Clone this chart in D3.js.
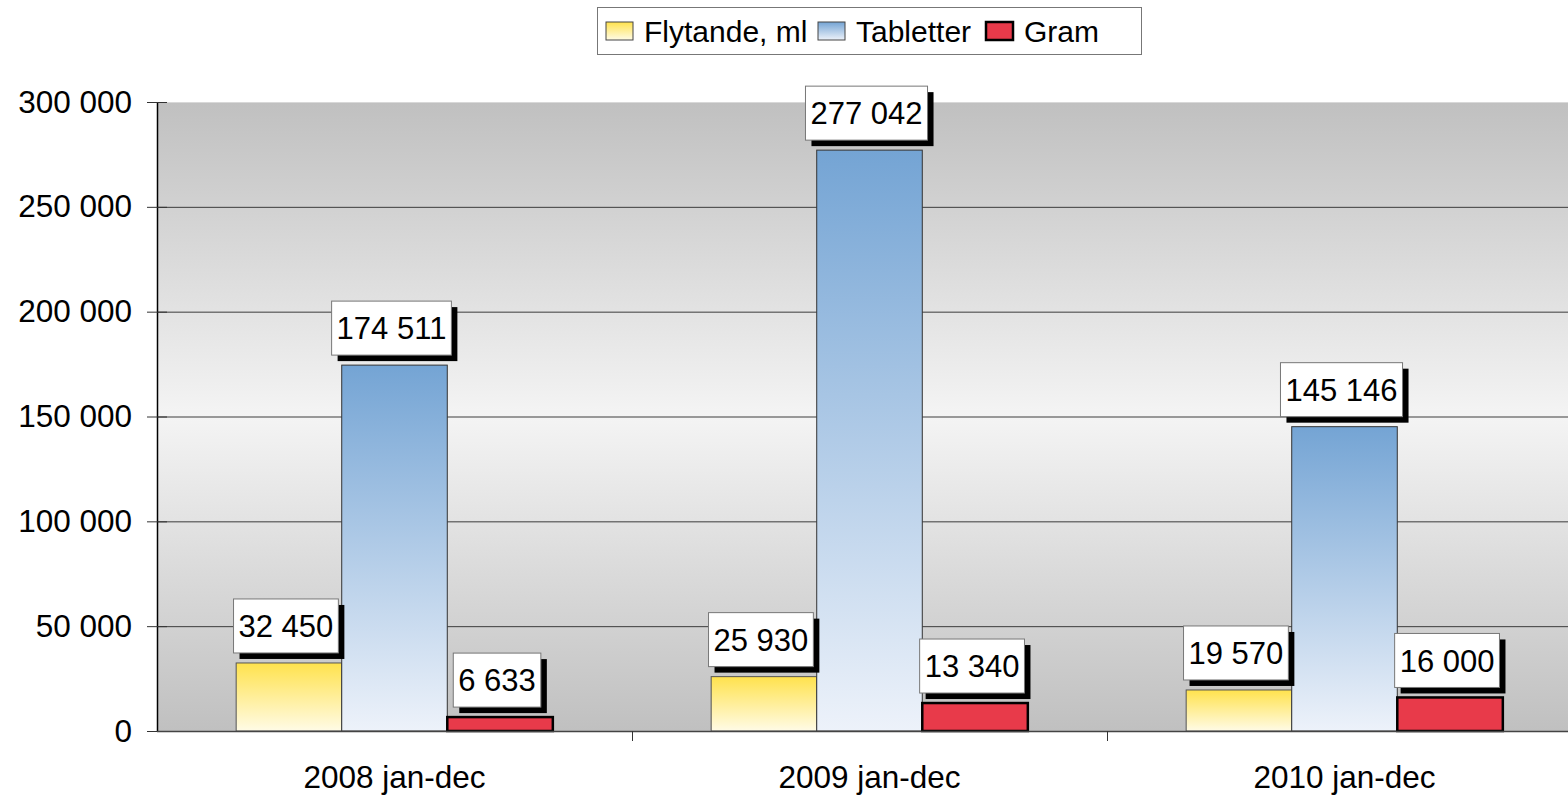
<!DOCTYPE html>
<html>
<head>
<meta charset="utf-8">
<script src="https://d3js.org/d3.v7.min.js"></script>
<style>
  html, body { margin: 0; padding: 0; background: #fff; }
  svg { display: block; font-family: 'Liberation Sans', Arial, sans-serif; }
</style>
</head>
<body>
<div id="chart"></div>
<script>
// Data
const categories = ['2008 jan-dec', '2009 jan-dec', '2010 jan-dec'];
const seriesNames = ['Flytande, ml', 'Tabletter', 'Gram'];
const flytande = [32450, 25930, 19570];
const tabletter = [174511, 277042, 145146];
const gram = [6633, 13340, 16000];
const yTicks = [0, 50000, 100000, 150000, 200000, 250000, 300000];

const seriesValues = [flytande, tabletter, gram];

const width = 1568, height = 798;
const margin = { top: 102, left: 157, bottom: 67 };
const plotBottom = height - margin.bottom;
const bandW = 475;

const fmt = v => d3.format(',')(v).replace(/,/g, ' ');

const svg = d3.select('#chart').append('svg')
    .attr('width', width)
    .attr('height', height);

const defs = svg.append('defs');

// Plot background: grey at top and bottom, light in middle
const bg = defs.append('linearGradient').attr('id', 'bgGrad')
    .attr('x1', 0).attr('y1', 0).attr('x2', 0).attr('y2', 1);
bg.append('stop').attr('offset', '0%').attr('stop-color', '#c0c0c0');
bg.append('stop').attr('offset', '50%').attr('stop-color', '#f4f4f4');
bg.append('stop').attr('offset', '100%').attr('stop-color', '#c0c0c0');

// Bar gradients
const gradDefs = [
    { id: 'gFly', top: '#ffe24d', bottom: '#fffbe6' },
    { id: 'gTab', top: '#74a4d4', bottom: '#edf2fa' },
];
gradDefs.forEach(g => {
    const lg = defs.append('linearGradient').attr('id', g.id)
        .attr('x1', 0).attr('y1', 0).attr('x2', 0).attr('y2', 1);
    lg.append('stop').attr('offset', '0%').attr('stop-color', g.top);
    lg.append('stop').attr('offset', '100%').attr('stop-color', g.bottom);
});

const fills = ['url(#gFly)', 'url(#gTab)', '#e83a4a'];
const strokes = ['#555', '#333', '#000'];
const strokeW = [1, 1, 2.5];

// Scales
const x0 = d3.scaleBand()
    .domain(categories)
    .range([margin.left, margin.left + bandW * categories.length])
    .paddingInner(0).paddingOuter(0);

const x1 = d3.scaleBand()
    .domain(seriesNames)
    .range([0, x0.bandwidth()])
    .paddingInner(0)
    .paddingOuter(0.75);

const y = d3.scaleLinear()
    .domain([0, 300000])
    .range([plotBottom, margin.top]);

// Plot area background
svg.append('rect')
    .attr('x', margin.left)
    .attr('y', y(300000))
    .attr('width', width - margin.left)
    .attr('height', y(0) - y(300000))
    .attr('fill', 'url(#bgGrad)');

// Gridlines
svg.append('g').selectAll('line')
    .data(yTicks.filter(t => t > 0))
    .enter().append('line')
    .attr('x1', margin.left).attr('x2', width)
    .attr('y1', d => y(d) + 0.5).attr('y2', d => y(d) + 0.5)
    .attr('stroke', d => d === 300000 ? '#d8d8d8' : '#3c3c3c')
    .attr('stroke-width', 1);

// Bars
const groups = svg.append('g').selectAll('g')
    .data(categories)
    .enter().append('g')
    .attr('transform', d => `translate(${x0(d)},0)`);

const barData = (cat, ci) => seriesNames.map((s, si) => ({ s, si, v: seriesValues[si][ci] }));

groups.selectAll('rect')
    .data((d, ci) => barData(d, ci))
    .enter().append('rect')
    .attr('x', d => x1(d.s))
    .attr('y', d => y(d.v))
    .attr('width', x1.bandwidth())
    .attr('height', d => y(0) - y(d.v))
    .attr('fill', d => fills[d.si])
    .attr('stroke', d => strokes[d.si])
    .attr('stroke-width', d => strokeW[d.si]);

// Axes
const yAxis = svg.append('g')
    .attr('transform', `translate(${margin.left},0)`)
    .call(d3.axisLeft(y).tickValues(yTicks).tickFormat(fmt).tickSizeInner(10).tickSizeOuter(0).tickPadding(15));
yAxis.select('.domain').attr('stroke', '#000').attr('stroke-width', 1.5);
yAxis.selectAll('.tick line').attr('x2', 10).attr('x1', -10).attr('stroke', '#333');
yAxis.selectAll('.tick text')
    .style('font-size', '31.5px')
    .attr('fill', '#000');
yAxis.attr('font-family', null);

const xAxis = svg.append('g')
    .attr('transform', `translate(0,${plotBottom})`)
    .call(d3.axisBottom(x0).tickSize(0));
xAxis.select('.domain').remove();
xAxis.selectAll('.tick text')
    .attr('y', 57).attr('dy', null)
    .style('font-size', '31.5px').attr('fill', '#000');
xAxis.attr('font-family', null);

svg.append('line')
    .attr('x1', margin.left).attr('x2', width)
    .attr('y1', plotBottom + 0.5).attr('y2', plotBottom + 0.5)
    .attr('stroke', '#444').attr('stroke-width', 1.5);

// category separator ticks
svg.append('g').selectAll('line')
    .data(categories.slice(1))
    .enter().append('line')
    .attr('x1', d => x0(d) + 0.5).attr('x2', d => x0(d) + 0.5)
    .attr('y1', plotBottom).attr('y2', plotBottom + 10)
    .attr('stroke', '#333');

// Data labels: white box with black drop shadow
const labels = groups.selectAll('g.lbl')
    .data((d, ci) => barData(d, ci))
    .enter().append('g').attr('class', 'lbl');

labels.each(function (d) {
    const g = d3.select(this);
    const cx = x1(d.s) + x1.bandwidth() / 2 - 3;
    const bottom = y(d.v) - 10;
    const boxH = 54;
    const shadow = g.append('rect');
    const box = g.append('rect');
    const t = g.append('text')
        .attr('x', cx)
        .attr('y', bottom - boxH / 2)
        .attr('dy', '0.36em')
        .attr('text-anchor', 'middle')
        .style('font-size', '31px')
        .attr('fill', '#000')
        .text(fmt(d.v));
    const tw = t.node().getComputedTextLength();
    const boxW = tw + 10;
    shadow.attr('x', cx - boxW / 2 + 6).attr('y', bottom - boxH + 6)
        .attr('width', boxW).attr('height', boxH).attr('fill', '#000');
    box.attr('x', cx - boxW / 2).attr('y', bottom - boxH)
        .attr('width', boxW).attr('height', boxH)
        .attr('fill', '#fff').attr('stroke', '#777').attr('stroke-width', 1);
});

// Legend
const legend = svg.append('g');
legend.append('rect')
    .attr('x', 597.5).attr('y', 7.5).attr('width', 544).attr('height', 47)
    .attr('fill', '#fff').attr('stroke', '#777');
const legendX = [606, 818, 986];
const item = legend.selectAll('g.item')
    .data(seriesNames)
    .enter().append('g').attr('class', 'item')
    .attr('transform', (d, i) => `translate(${legendX[i]},22)`);
item.append('rect')
    .attr('width', 27).attr('height', 18)
    .attr('fill', (d, i) => fills[i])
    .attr('stroke', (d, i) => i === 2 ? '#000' : '#444')
    .attr('stroke-width', (d, i) => i === 2 ? 2.5 : 1);
item.append('text')
    .attr('x', 38).attr('y', 9).attr('dy', '0.36em')
    .style('font-size', '30px')
    .attr('fill', '#000')
    .text(d => d);
</script>
</body>
</html>
